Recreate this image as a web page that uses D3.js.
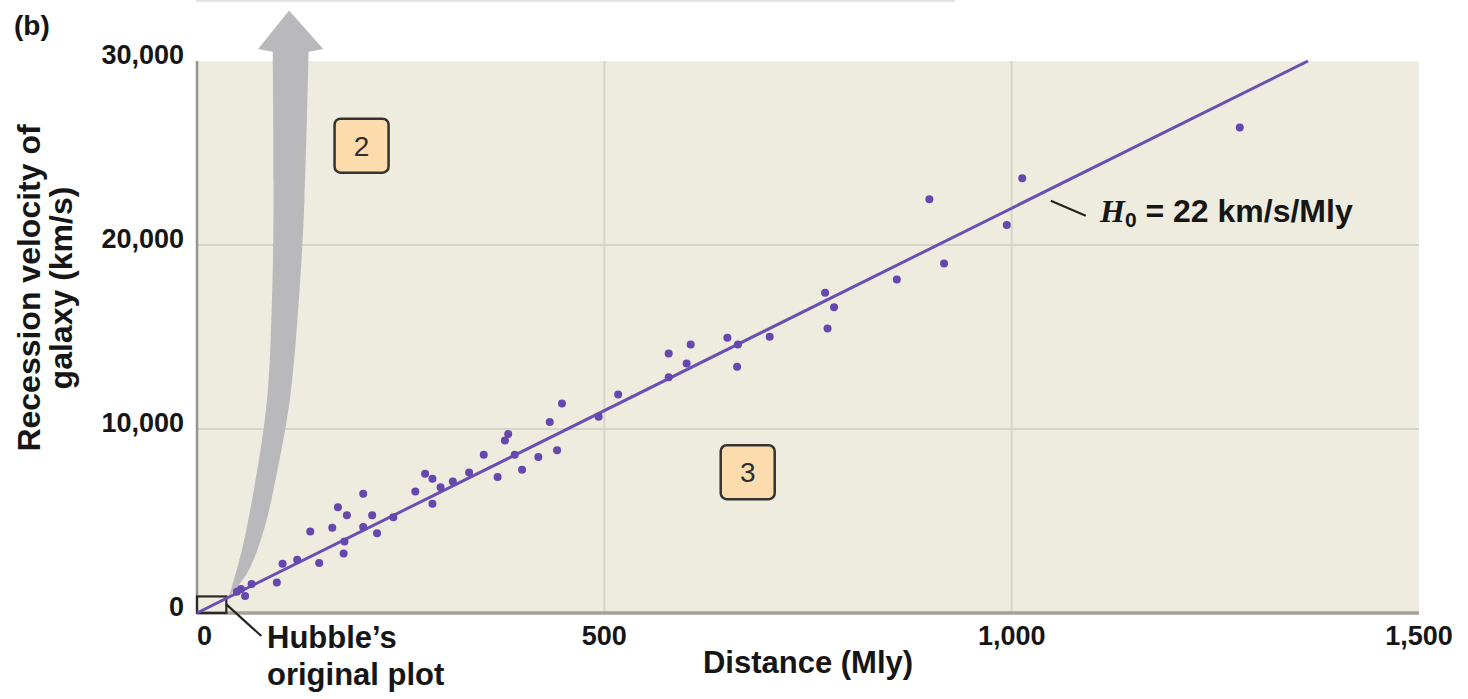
<!DOCTYPE html>
<html>
<head>
<meta charset="utf-8">
<script src="https://cdn.jsdelivr.net/npm/d3@7"></script>
<style>
  html, body { margin: 0; padding: 0; background: #ffffff; }
  svg { display: block; }
  text { font-family: "Liberation Sans", Arial, Helvetica, sans-serif; fill: #161616; }
</style>
</head>
<body>
<svg id="chart" width="1468" height="699"></svg>
<script>
// Galaxy distances (Mly) and recession velocities (km/s)
const distances = [49, 54, 59, 67, 98, 105, 123, 139, 150, 166, 173, 180, 181, 184,
  204, 204, 215, 221, 241, 268, 280, 289, 289, 299, 314, 334, 352, 369, 378, 382,
  390, 399, 419, 433, 442, 448, 493, 517, 579, 579, 601, 606, 651, 663, 664, 703,
  771, 774, 782, 859, 899, 917, 994, 1013, 1280];
const velocities = [1160, 1310, 930, 1580, 1660, 2670, 2890, 4430, 2720, 4630, 5750, 3230, 3890, 5310,
  6480, 4680, 5310, 4340, 5210, 6600, 7570, 7300, 5940, 6840, 7150, 7640, 8600, 7390, 9380, 9730,
  8600, 7790, 8480, 10380, 8850, 11380, 10670, 11870, 14100, 12810, 13560, 14590, 14960, 13380, 14590, 15010,
  17410, 15460, 16620, 18130, 22490, 19000, 21090, 23630, 26390];

// Hubble constant of the fitted line (km/s per Mly)
const hubbleConstant = 22;

// Axis ticks
const xTicks = [0, 500, 1000, 1500];
const yTicks = [0, 10000, 20000, 30000];

const svg = d3.select("#chart");
const plotLeft = 197, plotRight = 1419, plotTop = 61, plotBottom = 613;

const x = d3.scaleLinear().domain([0, 1500]).range([plotLeft, plotRight]);
const y = d3.scaleLinear().domain([0, 30000]).range([plotBottom, plotTop]);
const fmt = d3.format(",");

// faint rule at the very top edge
svg.append("line")
  .attr("x1", 196).attr("x2", 955).attr("y1", 1).attr("y2", 1)
  .attr("stroke", "#e2e2e2").attr("stroke-width", 2);

// plot background
svg.append("rect")
  .attr("x", plotLeft).attr("y", plotTop)
  .attr("width", plotRight - plotLeft).attr("height", plotBottom - plotTop)
  .attr("fill", "#edecdf");

// grid lines
svg.append("g").selectAll("line")
  .data(xTicks.filter(d => d > 0 && d < 1500))
  .join("line")
  .attr("x1", d => x(d)).attr("x2", d => x(d))
  .attr("y1", plotTop).attr("y2", plotBottom)
  .attr("stroke", "#d6d6c6").attr("stroke-width", 2);
svg.append("g").selectAll("line")
  .data(yTicks.filter(d => d > 0 && d < 30000))
  .join("line")
  .attr("x1", plotLeft).attr("x2", plotRight)
  .attr("y1", d => y(d)).attr("y2", d => y(d))
  .attr("stroke", "#d6d6c6").attr("stroke-width", 2);

// frame: left and bottom edges
svg.append("line")
  .attr("x1", plotLeft).attr("x2", plotLeft).attr("y1", plotTop).attr("y2", plotBottom)
  .attr("stroke", "#96968a").attr("stroke-width", 2.5);
svg.append("line")
  .attr("x1", plotLeft).attr("x2", plotRight).attr("y1", plotBottom).attr("y2", plotBottom)
  .attr("stroke", "#a3a396").attr("stroke-width", 3.5);

// curved grey arrow rising from the origin region (in data units)
const arrowLeftEdge = [[39, 870], [55, 3400], [71, 7000], [86, 11600], [92, 17000], [94, 22500], [93, 30500]];
const arrowHead = [[75, 30650], [113, 32750], [155, 30650]];
const arrowRightEdge = [[137, 30500], [132, 22500], [125, 17000], [114, 11600], [98, 7600], [82, 4500], [62, 2200], [39, 870]];
const edge = d3.line().x(d => x(d[0])).y(d => y(d[1])).curve(d3.curveCatmullRom);
const headPath = arrowHead.map(p => "L" + x(p[0]) + "," + y(p[1])).join("");
const arrowPath = edge(arrowLeftEdge) + headPath + edge(arrowRightEdge).replace(/^M/, "L") + "Z";
svg.append("path")
  .attr("d", arrowPath)
  .attr("fill", "#b9b9bb");

// Hubble's original plot region
const hubbleBox = { d: 36, v: 900 };
svg.append("rect")
  .attr("x", x(0)).attr("y", y(hubbleBox.v))
  .attr("width", x(hubbleBox.d) - x(0)).attr("height", y(0) - y(hubbleBox.v))
  .attr("fill", "none").attr("stroke", "#2a2a2a").attr("stroke-width", 2.2);

// fitted line v = H0 * d
const dMax = 30000 / hubbleConstant;
svg.append("line")
  .attr("x1", x(0)).attr("y1", y(0))
  .attr("x2", x(dMax)).attr("y2", y(hubbleConstant * dMax))
  .attr("stroke", "#6a4fb2").attr("stroke-width", 3);

// galaxies
svg.append("g").selectAll("circle")
  .data(distances.map((d, i) => [d, velocities[i]]))
  .join("circle")
  .attr("cx", d => x(d[0])).attr("cy", d => y(d[1]))
  .attr("r", 4)
  .attr("fill", "#6547ad");

// numbered step boxes
const steps = [
  { label: "2", d: 202, v: 25400 },
  { label: "3", d: 676, v: 7650 }
];
const stepG = svg.append("g").selectAll("g").data(steps).join("g")
  .attr("transform", s => `translate(${x(s.d)},${y(s.v)})`);
stepG.append("rect")
  .attr("x", -27).attr("y", -27).attr("width", 54).attr("height", 54)
  .attr("rx", 6).attr("ry", 6)
  .attr("fill", "#fcdcac").attr("stroke", "#333333").attr("stroke-width", 2.5);
stepG.append("text")
  .attr("text-anchor", "middle").attr("y", 10)
  .style("font-size", "28px").style("fill", "#2e2e2e")
  .text(s => s.label);

// y tick labels
svg.append("g").selectAll("text")
  .data(yTicks)
  .join("text")
  .attr("x", 184).attr("y", d => y(d) + 3)
  .attr("text-anchor", "end")
  .style("font-size", "27px").style("font-weight", "bold")
  .text(d => fmt(d));

// x tick labels
svg.append("g").selectAll("text")
  .data(xTicks)
  .join("text")
  .attr("x", d => x(d))
  .attr("y", 645)
  .attr("text-anchor", d => d === 0 ? "start" : "middle")
  .style("font-size", "27px").style("font-weight", "bold")
  .text(d => fmt(d));

// axis titles
svg.append("text")
  .attr("x", (plotLeft + plotRight) / 2).attr("y", 673)
  .attr("text-anchor", "middle")
  .style("font-size", "31px").style("font-weight", "bold")
  .text("Distance (Mly)");

const yTitle = svg.append("text")
  .attr("transform", "translate(40,288) rotate(-90)")
  .attr("text-anchor", "middle")
  .style("font-size", "32px").style("font-weight", "bold");
yTitle.append("tspan").attr("x", 0).attr("y", 0).text("Recession velocity of");
yTitle.append("tspan").attr("x", 0).attr("y", 32).text("galaxy (km/s)");

// panel tag
svg.append("text")
  .attr("x", 14).attr("y", 35)
  .style("font-size", "28px").style("font-weight", "bold")
  .text("(b)");

// Hubble's original plot callout
svg.append("line")
  .attr("x1", x(hubbleBox.d)).attr("y1", y(hubbleBox.v) + 8)
  .attr("x2", x(hubbleBox.d) + 35).attr("y2", 636)
  .attr("stroke", "#222").attr("stroke-width", 2.2);
const hub = svg.append("text")
  .style("font-size", "31px").style("font-weight", "bold");
hub.append("tspan").attr("x", 267).attr("y", 648).text("Hubble\u2019s");
hub.append("tspan").attr("x", 267).attr("y", 685).text("original plot");

// H0 callout on the fitted line
const calloutD = 1048;
svg.append("line")
  .attr("x1", x(calloutD)).attr("y1", y(hubbleConstant * calloutD) + 12)
  .attr("x2", x(calloutD) + 35).attr("y2", y(hubbleConstant * calloutD) + 27)
  .attr("stroke", "#222").attr("stroke-width", 2);
const h0 = svg.append("text")
  .attr("x", 1100).attr("y", 222)
  .style("font-size", "32px").style("font-weight", "bold");
h0.append("tspan")
  .style("font-family", "'Liberation Serif', 'Times New Roman', serif")
  .style("font-style", "italic")
  .text("H");
h0.append("tspan")
  .attr("dy", 5)
  .style("font-size", "21px")
  .text("0");
h0.append("tspan")
  .attr("dy", -5)
  .text(" = " + hubbleConstant + " km/s/Mly");
</script>
</body>
</html>
